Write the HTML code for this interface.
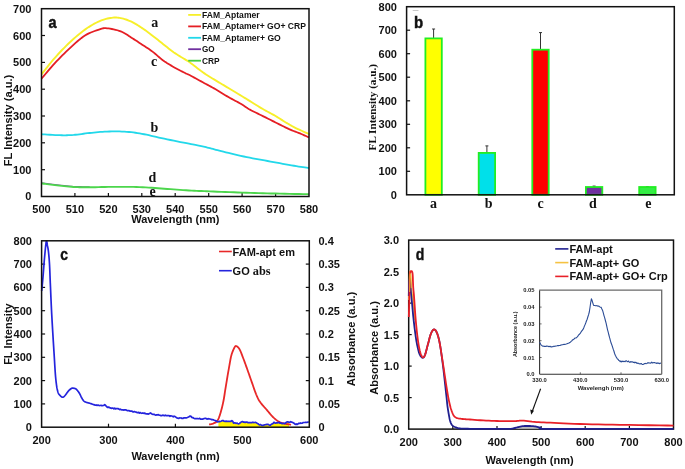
<!DOCTYPE html>
<html><head><meta charset="utf-8"><style>
html,body{margin:0;padding:0;background:#fff;width:685px;height:469px;overflow:hidden}
svg{display:block;filter:blur(0.3px)}
</style></head><body>
<svg width="685" height="469" viewBox="0 0 685 469">
<rect width="685" height="469" fill="#fff"/>
<g font-family="Liberation Sans, sans-serif" font-weight="bold" font-size="11" fill="#111">
<text x="31.4" y="200.4" text-anchor="end">0</text>
<text x="31.4" y="173.6" text-anchor="end">100</text>
<line x1="41.5" y1="169.7" x2="45.0" y2="169.7" stroke="#111" stroke-width="1.2"/>
<text x="31.4" y="146.8" text-anchor="end">200</text>
<line x1="41.5" y1="142.8" x2="45.0" y2="142.8" stroke="#111" stroke-width="1.2"/>
<text x="31.4" y="120.0" text-anchor="end">300</text>
<line x1="41.5" y1="116.0" x2="45.0" y2="116.0" stroke="#111" stroke-width="1.2"/>
<text x="31.4" y="93.1" text-anchor="end">400</text>
<line x1="41.5" y1="89.2" x2="45.0" y2="89.2" stroke="#111" stroke-width="1.2"/>
<text x="31.4" y="66.3" text-anchor="end">500</text>
<line x1="41.5" y1="62.4" x2="45.0" y2="62.4" stroke="#111" stroke-width="1.2"/>
<text x="31.4" y="39.5" text-anchor="end">600</text>
<line x1="41.5" y1="35.5" x2="45.0" y2="35.5" stroke="#111" stroke-width="1.2"/>
<text x="31.4" y="12.6" text-anchor="end">700</text>
<text x="41.5" y="213.3" text-anchor="middle">500</text>
<text x="74.9" y="213.3" text-anchor="middle">510</text>
<line x1="74.9" y1="196.5" x2="74.9" y2="193.0" stroke="#111" stroke-width="1.2"/>
<text x="108.4" y="213.3" text-anchor="middle">520</text>
<line x1="108.4" y1="196.5" x2="108.4" y2="193.0" stroke="#111" stroke-width="1.2"/>
<text x="141.8" y="213.3" text-anchor="middle">530</text>
<line x1="141.8" y1="196.5" x2="141.8" y2="193.0" stroke="#111" stroke-width="1.2"/>
<text x="175.2" y="213.3" text-anchor="middle">540</text>
<line x1="175.2" y1="196.5" x2="175.2" y2="193.0" stroke="#111" stroke-width="1.2"/>
<text x="208.7" y="213.3" text-anchor="middle">550</text>
<line x1="208.7" y1="196.5" x2="208.7" y2="193.0" stroke="#111" stroke-width="1.2"/>
<text x="242.1" y="213.3" text-anchor="middle">560</text>
<line x1="242.1" y1="196.5" x2="242.1" y2="193.0" stroke="#111" stroke-width="1.2"/>
<text x="275.6" y="213.3" text-anchor="middle">570</text>
<line x1="275.6" y1="196.5" x2="275.6" y2="193.0" stroke="#111" stroke-width="1.2"/>
<text x="309.0" y="213.3" text-anchor="middle">580</text>
</g>
<text font-family="Liberation Sans, sans-serif" font-weight="bold" font-size="11" fill="#111" x="175.3" y="222.8" text-anchor="middle">Wavelength (nm)</text>
<text font-family="Liberation Sans, sans-serif" font-weight="bold" font-size="10.7" fill="#111" transform="translate(12,120.5) rotate(-90)" text-anchor="middle" textLength="91.5" lengthAdjust="spacingAndGlyphs">FL Intensity (a.u.)</text>
<text font-family="Liberation Sans, sans-serif" font-weight="bold" font-size="17" fill="#111" stroke="#111" stroke-width="0.5" transform="translate(48.6,27.6) scale(0.85,1)">a</text>
<path d="M41.50,183.78 L42.50,183.91 L43.78,184.09 L45.30,184.29 L47.02,184.52 L48.88,184.77 L50.84,185.02 L52.86,185.27 L54.88,185.50 L56.98,185.74 L59.24,186.00 L61.62,186.26 L64.07,186.53 L66.54,186.78 L68.98,187.02 L71.35,187.22 L73.60,187.38 L75.84,187.49 L78.18,187.56 L80.52,187.61 L82.80,187.63 L84.92,187.64 L86.83,187.64 L88.43,187.64 L89.65,187.65" fill="none" stroke="#7a5a9a" stroke-width="1.2" transform="translate(0,-0.9)"/>
<path d="M41.50,183.78 L42.50,183.91 L43.78,184.09 L45.30,184.29 L47.02,184.52 L48.88,184.77 L50.84,185.02 L52.86,185.27 L54.88,185.50 L56.98,185.74 L59.24,186.00 L61.62,186.26 L64.07,186.53 L66.54,186.78 L68.98,187.02 L71.35,187.22 L73.60,187.38 L75.67,187.49 L77.59,187.57 L79.42,187.63 L81.23,187.65 L83.09,187.67 L85.07,187.66 L87.23,187.66 L89.65,187.65 L92.36,187.62 L95.29,187.58 L98.41,187.52 L101.65,187.45 L104.95,187.38 L108.27,187.32 L111.55,187.27 L114.73,187.24 L117.84,187.23 L120.94,187.23 L124.03,187.23 L127.12,187.24 L130.21,187.26 L133.29,187.31 L136.38,187.38 L139.47,187.49 L142.56,187.62 L145.66,187.79 L148.75,187.99 L151.84,188.21 L154.94,188.44 L158.03,188.67 L161.12,188.90 L164.22,189.12 L167.33,189.34 L170.49,189.57 L173.66,189.80 L176.82,190.04 L179.95,190.27 L183.03,190.48 L186.04,190.69 L188.96,190.87 L191.69,191.02 L194.23,191.15 L196.64,191.27 L199.03,191.37 L201.48,191.47 L204.07,191.57 L206.89,191.68 L210.02,191.81 L213.50,191.94 L217.24,192.09 L221.20,192.25 L225.30,192.41 L229.50,192.57 L233.75,192.72 L237.97,192.87 L242.12,193.01 L246.24,193.14 L250.39,193.27 L254.57,193.40 L258.76,193.52 L262.96,193.63 L267.17,193.74 L271.37,193.85 L275.56,193.95 L279.97,194.05 L284.71,194.15 L289.57,194.25 L294.37,194.35 L298.91,194.43 L302.99,194.51 L306.42,194.57 L309.00,194.62" fill="none" stroke="#4CD64C" stroke-width="1.9" transform="translate(0,-0.4)"/>
<path d="M41.50,134.26 L42.95,134.34 L44.91,134.46 L47.26,134.60 L49.84,134.76 L52.53,134.91 L55.19,135.05 L57.69,135.16 L59.89,135.22 L61.81,135.26 L63.59,135.28 L65.27,135.28 L66.89,135.26 L68.49,135.21 L70.12,135.15 L71.81,135.05 L73.60,134.93 L75.49,134.76 L77.42,134.55 L79.39,134.30 L81.40,134.03 L83.43,133.76 L85.49,133.48 L87.56,133.23 L89.65,133.00 L91.74,132.78 L93.85,132.57 L95.97,132.35 L98.11,132.15 L100.29,131.97 L102.49,131.80 L104.74,131.67 L107.04,131.57 L109.41,131.51 L111.86,131.46 L114.37,131.44 L116.90,131.44 L119.44,131.47 L121.94,131.54 L124.40,131.64 L126.77,131.79 L129.03,131.98 L131.21,132.20 L133.34,132.46 L135.44,132.76 L137.54,133.09 L139.67,133.45 L141.87,133.84 L144.15,134.26 L146.50,134.72 L148.87,135.22 L151.27,135.76 L153.72,136.33 L156.23,136.91 L158.81,137.51 L161.47,138.11 L164.22,138.71 L167.18,139.33 L170.39,140.00 L173.75,140.68 L177.15,141.37 L180.48,142.04 L183.63,142.67 L186.49,143.24 L188.96,143.73 L191.00,144.13 L192.71,144.44 L194.15,144.70 L195.40,144.92 L196.53,145.12 L197.63,145.32 L198.76,145.54 L199.99,145.79 L201.27,146.07 L202.49,146.35 L203.68,146.63 L204.86,146.91 L206.06,147.21 L207.31,147.52 L208.62,147.85 L210.02,148.21 L211.47,148.58 L212.90,148.96 L214.35,149.35 L215.88,149.76 L217.50,150.20 L219.27,150.66 L221.23,151.16 L223.40,151.70 L225.84,152.29 L228.54,152.94 L231.43,153.64 L234.46,154.36 L237.56,155.09 L240.70,155.81 L243.80,156.50 L246.81,157.14 L249.76,157.74 L252.73,158.32 L255.70,158.88 L258.68,159.42 L261.65,159.95 L264.63,160.48 L267.59,161.01 L270.55,161.54 L273.55,162.09 L276.62,162.65 L279.72,163.22 L282.79,163.78 L285.80,164.32 L288.70,164.84 L291.43,165.32 L293.95,165.75 L296.34,166.15 L298.66,166.52 L300.87,166.86 L302.94,167.17 L304.83,167.45 L306.49,167.69 L307.90,167.90 L309.00,168.06" fill="none" stroke="#22D8EA" stroke-width="1.8"/>
<path d="M41.50,74.43 L42.52,73.14 L43.86,71.42 L45.46,69.36 L47.25,67.09 L49.15,64.69 L51.10,62.27 L53.03,59.94 L54.88,57.80 L56.68,55.78 L58.52,53.76 L60.40,51.75 L62.29,49.76 L64.21,47.81 L66.12,45.89 L68.03,44.03 L69.92,42.24 L71.81,40.49 L73.69,38.78 L75.58,37.11 L77.47,35.50 L79.35,33.93 L81.23,32.43 L83.10,30.99 L84.97,29.63 L86.84,28.32 L88.73,27.07 L90.63,25.88 L92.51,24.75 L94.37,23.69 L96.20,22.72 L97.97,21.83 L99.68,21.04 L101.33,20.36 L102.95,19.78 L104.52,19.29 L106.06,18.88 L107.54,18.54 L108.98,18.26 L110.38,18.02 L111.72,17.82 L112.98,17.67 L114.15,17.56 L115.25,17.52 L116.32,17.53 L117.37,17.59 L118.44,17.71 L119.56,17.87 L120.75,18.09 L122.00,18.36 L123.30,18.69 L124.64,19.08 L125.99,19.52 L127.36,20.00 L128.73,20.53 L130.10,21.10 L131.45,21.71 L132.79,22.37 L134.13,23.09 L135.47,23.86 L136.82,24.67 L138.16,25.52 L139.50,26.38 L140.83,27.25 L142.15,28.12 L143.46,29.00 L144.75,29.90 L146.04,30.82 L147.33,31.75 L148.62,32.70 L149.91,33.66 L151.20,34.64 L152.51,35.64 L153.83,36.66 L155.16,37.70 L156.50,38.77 L157.84,39.85 L159.19,40.94 L160.53,42.03 L161.87,43.11 L163.21,44.17 L164.55,45.22 L165.89,46.29 L167.22,47.35 L168.56,48.41 L169.90,49.46 L171.24,50.48 L172.58,51.47 L173.91,52.43 L175.29,53.37 L176.71,54.30 L178.16,55.21 L179.60,56.09 L180.99,56.94 L182.31,57.73 L183.53,58.47 L184.61,59.14 L185.49,59.67 L186.15,60.06 L186.68,60.36 L187.15,60.62 L187.64,60.91 L188.22,61.28 L188.97,61.79 L189.96,62.49 L191.21,63.42 L192.65,64.53 L194.23,65.76 L195.92,67.09 L197.66,68.45 L199.42,69.80 L201.15,71.10 L202.80,72.28 L204.40,73.38 L206.01,74.44 L207.61,75.48 L209.21,76.48 L210.81,77.47 L212.41,78.46 L214.01,79.43 L215.61,80.41 L217.21,81.39 L218.81,82.35 L220.41,83.30 L222.01,84.25 L223.62,85.19 L225.22,86.13 L226.82,87.08 L228.42,88.03 L230.04,89.01 L231.70,90.00 L233.38,91.01 L235.05,92.02 L236.69,93.01 L238.28,93.97 L239.78,94.88 L241.19,95.73 L242.45,96.50 L243.57,97.19 L244.60,97.82 L245.58,98.43 L246.56,99.04 L247.59,99.68 L248.72,100.37 L249.98,101.15 L251.40,102.03 L252.92,102.97 L254.52,103.97 L256.18,105.00 L257.86,106.04 L259.55,107.07 L261.23,108.08 L262.86,109.04 L264.47,109.96 L266.10,110.86 L267.74,111.75 L269.37,112.62 L270.99,113.48 L272.56,114.33 L274.09,115.17 L275.56,116.01 L276.97,116.85 L278.32,117.69 L279.64,118.53 L280.91,119.35 L282.16,120.16 L283.38,120.95 L284.59,121.72 L285.79,122.45 L286.95,123.15 L288.04,123.80 L289.09,124.43 L290.14,125.04 L291.20,125.64 L292.31,126.25 L293.50,126.89 L294.79,127.55 L296.28,128.28 L297.97,129.08 L299.77,129.92 L301.61,130.76 L303.39,131.56 L305.02,132.29 L306.42,132.91 L307.50,133.40 L308.23,133.73 L308.69,133.93 L308.95,134.03 L309.04,134.06 L309.04,134.04 L308.99,134.01 L308.96,133.98 L309.00,133.99" fill="none" stroke="#F7EF2A" stroke-width="1.9"/>
<path d="M41.50,78.72 L42.52,77.52 L43.86,75.91 L45.46,74.00 L47.25,71.88 L49.15,69.64 L51.10,67.38 L53.03,65.19 L54.88,63.16 L56.68,61.24 L58.52,59.31 L60.40,57.38 L62.29,55.47 L64.21,53.57 L66.12,51.71 L68.03,49.90 L69.92,48.14 L71.81,46.40 L73.69,44.66 L75.58,42.95 L77.47,41.28 L79.35,39.68 L81.23,38.17 L83.10,36.78 L84.97,35.53 L86.87,34.41 L88.84,33.41 L90.83,32.52 L92.81,31.72 L94.72,31.02 L96.53,30.39 L98.20,29.84 L99.68,29.36 L100.91,28.95 L101.89,28.63 L102.70,28.40 L103.42,28.24 L104.14,28.16 L104.92,28.14 L105.86,28.19 L107.04,28.28 L108.47,28.45 L110.09,28.68 L111.85,28.99 L113.68,29.35 L115.55,29.78 L117.38,30.25 L119.13,30.78 L120.75,31.34 L122.23,31.97 L123.63,32.68 L124.98,33.45 L126.28,34.26 L127.57,35.11 L128.84,35.97 L130.13,36.83 L131.45,37.67 L132.79,38.52 L134.13,39.37 L135.47,40.24 L136.82,41.12 L138.16,42.01 L139.50,42.89 L140.83,43.77 L142.15,44.65 L143.46,45.51 L144.75,46.35 L146.04,47.18 L147.33,48.02 L148.62,48.87 L149.91,49.75 L151.20,50.66 L152.51,51.63 L153.83,52.66 L155.16,53.76 L156.50,54.90 L157.84,56.07 L159.19,57.23 L160.53,58.37 L161.87,59.46 L163.21,60.48 L164.55,61.43 L165.89,62.33 L167.22,63.20 L168.56,64.03 L169.90,64.84 L171.24,65.64 L172.58,66.41 L173.91,67.19 L175.29,67.96 L176.71,68.74 L178.16,69.52 L179.59,70.27 L180.99,70.98 L182.31,71.66 L183.53,72.27 L184.61,72.82 L185.49,73.25 L186.16,73.56 L186.69,73.79 L187.17,73.98 L187.67,74.19 L188.25,74.45 L189.00,74.81 L190.00,75.32 L191.24,75.97 L192.68,76.75 L194.25,77.61 L195.94,78.53 L197.67,79.49 L199.43,80.46 L201.15,81.41 L202.80,82.32 L204.40,83.19 L206.00,84.05 L207.60,84.91 L209.21,85.77 L210.81,86.64 L212.41,87.52 L214.01,88.41 L215.61,89.32 L217.21,90.26 L218.81,91.22 L220.41,92.20 L222.01,93.18 L223.62,94.17 L225.22,95.15 L226.82,96.11 L228.42,97.05 L230.04,97.97 L231.70,98.88 L233.38,99.79 L235.05,100.68 L236.69,101.56 L238.28,102.41 L239.78,103.25 L241.19,104.05 L242.45,104.81 L243.57,105.53 L244.60,106.22 L245.58,106.89 L246.56,107.56 L247.59,108.23 L248.72,108.93 L249.98,109.66 L251.40,110.42 L252.92,111.20 L254.52,112.00 L256.18,112.81 L257.86,113.63 L259.55,114.45 L261.23,115.26 L262.86,116.07 L264.45,116.87 L266.04,117.66 L267.62,118.46 L269.20,119.26 L270.78,120.06 L272.37,120.85 L273.96,121.65 L275.56,122.45 L277.18,123.26 L278.81,124.09 L280.44,124.92 L282.08,125.75 L283.72,126.57 L285.36,127.38 L286.99,128.15 L288.60,128.89 L290.24,129.60 L291.92,130.30 L293.61,130.97 L295.29,131.63 L296.93,132.25 L298.49,132.86 L299.96,133.44 L301.31,133.99 L302.56,134.53 L303.76,135.06 L304.90,135.57 L305.95,136.05 L306.90,136.50 L307.74,136.89 L308.44,137.22 L309.00,137.48" fill="none" stroke="#E51E24" stroke-width="1.8"/>
<rect x="41.5" y="8.7" width="267.5" height="187.8" fill="none" stroke="#111" stroke-width="1.5"/>
<text font-family="Liberation Serif, serif" font-weight="bold" font-size="14" fill="#111" x="151.2" y="27.4">a</text>
<text font-family="Liberation Serif, serif" font-weight="bold" font-size="14" fill="#111" x="151" y="65.8">c</text>
<text font-family="Liberation Serif, serif" font-weight="bold" font-size="14" fill="#111" x="150.6" y="131.7">b</text>
<text font-family="Liberation Serif, serif" font-weight="bold" font-size="14" fill="#111" x="148.6" y="181.6">d</text>
<text font-family="Liberation Serif, serif" font-weight="bold" font-size="14" fill="#111" x="149.6" y="195.8">e</text>
<line x1="188.2" y1="14.9" x2="201" y2="14.9" stroke="#F7EF2A" stroke-width="1.8"/>
<text font-family="Liberation Sans, sans-serif" font-weight="bold" font-size="9" fill="#111" x="202" y="17.7" textLength="57.6" lengthAdjust="spacingAndGlyphs">FAM_Aptamer</text>
<line x1="188.2" y1="26.4" x2="201" y2="26.4" stroke="#E51E24" stroke-width="1.8"/>
<text font-family="Liberation Sans, sans-serif" font-weight="bold" font-size="9" fill="#111" x="202" y="29.2" textLength="104" lengthAdjust="spacingAndGlyphs">FAM_Aptamer+ GO+ CRP</text>
<line x1="188.2" y1="37.8" x2="201" y2="37.8" stroke="#22D8EA" stroke-width="1.8"/>
<text font-family="Liberation Sans, sans-serif" font-weight="bold" font-size="9" fill="#111" x="202" y="40.6" textLength="78.8" lengthAdjust="spacingAndGlyphs">FAM_Aptamer+ GO</text>
<line x1="188.2" y1="49.2" x2="201" y2="49.2" stroke="#7030A0" stroke-width="1.8"/>
<text font-family="Liberation Sans, sans-serif" font-weight="bold" font-size="9" fill="#111" x="202" y="52.0" textLength="12.7" lengthAdjust="spacingAndGlyphs">GO</text>
<line x1="188.2" y1="60.7" x2="201" y2="60.7" stroke="#44CC44" stroke-width="1.8"/>
<text font-family="Liberation Sans, sans-serif" font-weight="bold" font-size="9" fill="#111" x="202" y="63.5" textLength="17.7" lengthAdjust="spacingAndGlyphs">CRP</text>
<g font-family="Liberation Sans, sans-serif" font-weight="bold" font-size="11" fill="#111">
<text x="396.9" y="198.8" text-anchor="end">0</text>
<text x="396.9" y="175.2" text-anchor="end">100</text>
<line x1="406.6" y1="171.3" x2="410.1" y2="171.3" stroke="#111" stroke-width="1.2"/>
<text x="396.9" y="151.7" text-anchor="end">200</text>
<line x1="406.6" y1="147.8" x2="410.1" y2="147.8" stroke="#111" stroke-width="1.2"/>
<text x="396.9" y="128.2" text-anchor="end">300</text>
<line x1="406.6" y1="124.3" x2="410.1" y2="124.3" stroke="#111" stroke-width="1.2"/>
<text x="396.9" y="104.7" text-anchor="end">400</text>
<line x1="406.6" y1="100.8" x2="410.1" y2="100.8" stroke="#111" stroke-width="1.2"/>
<text x="396.9" y="81.2" text-anchor="end">500</text>
<line x1="406.6" y1="77.2" x2="410.1" y2="77.2" stroke="#111" stroke-width="1.2"/>
<text x="396.9" y="57.7" text-anchor="end">600</text>
<line x1="406.6" y1="53.7" x2="410.1" y2="53.7" stroke="#111" stroke-width="1.2"/>
<text x="396.9" y="34.2" text-anchor="end">700</text>
<line x1="406.6" y1="30.2" x2="410.1" y2="30.2" stroke="#111" stroke-width="1.2"/>
<text x="396.9" y="10.6" text-anchor="end">800</text>
</g>
<text font-family="Liberation Serif, serif" font-weight="bold" font-size="11.2" fill="#111" transform="translate(376,107.2) rotate(-90)" text-anchor="middle">FL Intensity (a.u.)</text>
<text font-family="Liberation Sans, sans-serif" font-weight="bold" font-size="17" fill="#111" stroke="#111" stroke-width="0.5" transform="translate(414,28) scale(0.88,1)">b</text>
<line x1="412.7" y1="10.5" x2="418.5" y2="10.5" stroke="#bbb" stroke-width="0.8"/>
<line x1="433.6" y1="29.0" x2="433.6" y2="38.4" stroke="#333" stroke-width="1"/>
<line x1="432.1" y1="29.0" x2="435.1" y2="29.0" stroke="#333" stroke-width="1"/>
<rect x="425.40000000000003" y="38.4" width="16.4" height="156.4" fill="#FFFF00" stroke="#22EE22" stroke-width="1.8"/>
<line x1="486.9" y1="145.9" x2="486.9" y2="152.9" stroke="#333" stroke-width="1"/>
<line x1="485.4" y1="145.9" x2="488.4" y2="145.9" stroke="#333" stroke-width="1"/>
<rect x="478.7" y="152.9" width="16.4" height="41.9" fill="#00E0EA" stroke="#22EE22" stroke-width="1.8"/>
<line x1="540.5" y1="32.6" x2="540.5" y2="49.7" stroke="#333" stroke-width="1"/>
<line x1="539.0" y1="32.6" x2="542.0" y2="32.6" stroke="#333" stroke-width="1"/>
<rect x="532.3" y="49.7" width="16.4" height="145.1" fill="#FF0000" stroke="#22EE22" stroke-width="1.8"/>
<line x1="594.1" y1="186.1" x2="594.1" y2="187.0" stroke="#333" stroke-width="1"/>
<line x1="592.6" y1="186.1" x2="595.6" y2="186.1" stroke="#333" stroke-width="1"/>
<rect x="585.9" y="187.0" width="16.4" height="7.8" fill="#7030A0" stroke="#22EE22" stroke-width="1.8"/>
<line x1="647.4" y1="186.8" x2="647.4" y2="187.0" stroke="#333" stroke-width="1"/>
<line x1="645.9" y1="186.8" x2="648.9" y2="186.8" stroke="#333" stroke-width="1"/>
<rect x="639.1999999999999" y="187.0" width="16.4" height="7.8" fill="#33EE44" stroke="#22EE22" stroke-width="1.8"/>
<rect x="406.6" y="6.7" width="267.69999999999993" height="188.10000000000002" fill="none" stroke="#111" stroke-width="1.5"/>
<text font-family="Liberation Serif, serif" font-weight="bold" font-size="14" fill="#111" x="433.6" y="207.7" text-anchor="middle">a</text>
<text font-family="Liberation Serif, serif" font-weight="bold" font-size="14" fill="#111" x="488.7" y="207.7" text-anchor="middle">b</text>
<text font-family="Liberation Serif, serif" font-weight="bold" font-size="14" fill="#111" x="540.5" y="207.7" text-anchor="middle">c</text>
<text font-family="Liberation Serif, serif" font-weight="bold" font-size="14" fill="#111" x="592.8" y="207.7" text-anchor="middle">d</text>
<text font-family="Liberation Serif, serif" font-weight="bold" font-size="14" fill="#111" x="648.4" y="207.7" text-anchor="middle">e</text>
<g font-family="Liberation Sans, sans-serif" font-weight="bold" font-size="11" fill="#111">
<text x="31.9" y="431.1" text-anchor="end">0</text>
<text x="31.9" y="407.8" text-anchor="end">100</text>
<line x1="41.6" y1="403.9" x2="45.1" y2="403.9" stroke="#111" stroke-width="1.2"/>
<text x="31.9" y="384.6" text-anchor="end">200</text>
<line x1="41.6" y1="380.6" x2="45.1" y2="380.6" stroke="#111" stroke-width="1.2"/>
<text x="31.9" y="361.2" text-anchor="end">300</text>
<line x1="41.6" y1="357.3" x2="45.1" y2="357.3" stroke="#111" stroke-width="1.2"/>
<text x="31.9" y="337.9" text-anchor="end">400</text>
<line x1="41.6" y1="334.0" x2="45.1" y2="334.0" stroke="#111" stroke-width="1.2"/>
<text x="31.9" y="314.6" text-anchor="end">500</text>
<line x1="41.6" y1="310.7" x2="45.1" y2="310.7" stroke="#111" stroke-width="1.2"/>
<text x="31.9" y="291.3" text-anchor="end">600</text>
<line x1="41.6" y1="287.4" x2="45.1" y2="287.4" stroke="#111" stroke-width="1.2"/>
<text x="31.9" y="268.1" text-anchor="end">700</text>
<line x1="41.6" y1="264.1" x2="45.1" y2="264.1" stroke="#111" stroke-width="1.2"/>
<text x="31.9" y="244.8" text-anchor="end">800</text>
<text x="318.5" y="431.1">0</text>
<text x="318.5" y="407.8">0.05</text>
<line x1="309.3" y1="403.9" x2="305.8" y2="403.9" stroke="#111" stroke-width="1.2"/>
<text x="318.5" y="384.6">0.1</text>
<line x1="309.3" y1="380.6" x2="305.8" y2="380.6" stroke="#111" stroke-width="1.2"/>
<text x="318.5" y="361.2">0.15</text>
<line x1="309.3" y1="357.3" x2="305.8" y2="357.3" stroke="#111" stroke-width="1.2"/>
<text x="318.5" y="337.9">0.2</text>
<line x1="309.3" y1="334.0" x2="305.8" y2="334.0" stroke="#111" stroke-width="1.2"/>
<text x="318.5" y="314.6">0.25</text>
<line x1="309.3" y1="310.7" x2="305.8" y2="310.7" stroke="#111" stroke-width="1.2"/>
<text x="318.5" y="291.3">0.3</text>
<line x1="309.3" y1="287.4" x2="305.8" y2="287.4" stroke="#111" stroke-width="1.2"/>
<text x="318.5" y="268.1">0.35</text>
<line x1="309.3" y1="264.1" x2="305.8" y2="264.1" stroke="#111" stroke-width="1.2"/>
<text x="318.5" y="244.8">0.4</text>
<text x="41.6" y="444.2" text-anchor="middle">200</text>
<text x="108.5" y="444.2" text-anchor="middle">300</text>
<line x1="108.5" y1="427.2" x2="108.5" y2="423.7" stroke="#111" stroke-width="1.2"/>
<text x="175.4" y="444.2" text-anchor="middle">400</text>
<line x1="175.4" y1="427.2" x2="175.4" y2="423.7" stroke="#111" stroke-width="1.2"/>
<text x="242.4" y="444.2" text-anchor="middle">500</text>
<line x1="242.4" y1="427.2" x2="242.4" y2="423.7" stroke="#111" stroke-width="1.2"/>
<text x="309.3" y="444.2" text-anchor="middle">600</text>
</g>
<text font-family="Liberation Sans, sans-serif" font-weight="bold" font-size="11" fill="#111" x="175.5" y="459.5" text-anchor="middle">Wavelength (nm)</text>
<text font-family="Liberation Sans, sans-serif" font-weight="bold" font-size="11" fill="#111" transform="translate(11.7,334.1) rotate(-90)" text-anchor="middle">FL Intensity</text>
<text font-family="Liberation Sans, sans-serif" font-weight="bold" font-size="11.2" fill="#111" transform="translate(355.2,338.9) rotate(-90)" text-anchor="middle">Absorbance (a.u.)</text>
<text font-family="Liberation Sans, sans-serif" font-weight="bold" font-size="17" fill="#111" stroke="#111" stroke-width="0.4" transform="translate(60.2,260.1) scale(0.82,1)">c</text>
<path d="M218.45,421.75 L219.28,421.41 L220.10,421.58 L221.05,421.16 L222.00,420.68 L223.07,420.53 L224.13,421.25 L225.20,421.44 L226.02,421.17 L226.85,421.39 L227.68,421.23 L228.50,421.44 L229.35,421.46 L230.20,421.19 L231.05,421.50 L231.90,420.70 L232.75,421.42 L233.60,423.11 L234.40,422.96 L235.20,422.85 L236.00,423.44 L236.87,423.01 L237.73,423.49 L238.60,423.93 L239.45,423.40 L240.30,422.83 L241.15,422.01 L242.00,421.68 L242.80,421.60 L243.60,422.24 L244.40,422.13 L245.20,422.45 L246.00,422.15 L246.88,422.03 L247.76,422.54 L248.64,422.68 L249.52,422.54 L250.40,422.48 L251.23,422.57 L252.07,422.58 L252.90,422.20 L253.73,422.55 L254.57,422.49 L255.40,422.28 L256.25,422.68 L257.10,423.30 L257.95,423.68 L258.80,424.47 L259.63,424.86 L260.47,424.55 L261.30,425.14 L262.13,425.34 L262.97,425.46 L263.80,425.08 L264.87,424.75 L265.93,424.55 L267.00,424.33 L267.88,424.38 L268.75,424.81 L269.62,425.11 L270.50,425.11 L271.35,424.26 L272.20,423.89 L273.05,423.49 L273.90,422.33 L274.73,422.84 L275.57,423.07 L276.40,422.95 L277.23,422.93 L278.07,422.68 L278.90,422.41 L279.73,423.09 L280.57,422.82 L281.40,423.37 L282.23,423.66 L283.07,423.27 L283.90,423.41 L284.75,423.58 L285.60,423.05 L286.45,422.23 L287.30,421.86 L288.13,421.82 L288.97,422.43 L289.0,427 L218.4,427 Z" fill="#FFF200"/>
<path d="M209.10,424.50 L209.40,424.44 L209.79,424.38 L210.26,424.30 L210.79,424.21 L211.34,424.10 L211.91,423.97 L212.47,423.80 L213.00,423.60 L213.52,423.39 L214.06,423.17 L214.61,422.94 L215.16,422.68 L215.70,422.37 L216.23,422.00 L216.73,421.55 L217.20,421.00 L217.63,420.37 L218.03,419.68 L218.41,418.93 L218.77,418.10 L219.12,417.20 L219.47,416.22 L219.83,415.15 L220.20,414.00 L220.59,412.72 L220.99,411.31 L221.40,409.80 L221.81,408.22 L222.21,406.60 L222.60,404.96 L222.96,403.36 L223.30,401.80 L223.60,400.28 L223.88,398.77 L224.13,397.26 L224.37,395.75 L224.60,394.24 L224.83,392.73 L225.06,391.22 L225.30,389.70 L225.55,388.18 L225.80,386.65 L226.05,385.13 L226.29,383.60 L226.54,382.07 L226.79,380.55 L227.05,379.02 L227.30,377.50 L227.56,375.97 L227.82,374.42 L228.08,372.87 L228.35,371.33 L228.62,369.79 L228.88,368.29 L229.14,366.82 L229.40,365.40 L229.65,364.02 L229.88,362.66 L230.11,361.32 L230.34,360.02 L230.58,358.75 L230.83,357.52 L231.10,356.34 L231.40,355.20 L231.73,354.08 L232.10,352.97 L232.50,351.89 L232.90,350.86 L233.30,349.89 L233.70,349.01 L234.07,348.24 L234.40,347.60 L234.69,347.09 L234.94,346.69 L235.17,346.39 L235.39,346.18 L235.61,346.06 L235.85,346.01 L236.10,346.03 L236.40,346.10 L236.74,346.24 L237.10,346.46 L237.49,346.75 L237.89,347.11 L238.30,347.54 L238.71,348.04 L239.11,348.59 L239.50,349.20 L239.87,349.87 L240.23,350.60 L240.58,351.39 L240.94,352.25 L241.30,353.17 L241.67,354.15 L242.07,355.19 L242.50,356.30 L242.95,357.47 L243.43,358.72 L243.92,360.03 L244.43,361.41 L244.95,362.83 L245.49,364.31 L246.04,365.84 L246.60,367.40 L247.18,369.03 L247.78,370.73 L248.40,372.50 L249.04,374.31 L249.68,376.15 L250.32,377.98 L250.96,379.81 L251.60,381.60 L252.24,383.42 L252.89,385.30 L253.55,387.20 L254.21,389.09 L254.86,390.93 L255.50,392.67 L256.11,394.27 L256.70,395.70 L257.24,396.92 L257.73,397.97 L258.19,398.88 L258.64,399.69 L259.09,400.45 L259.58,401.19 L260.11,401.96 L260.70,402.80 L261.36,403.69 L262.08,404.57 L262.83,405.46 L263.62,406.35 L264.42,407.24 L265.23,408.13 L266.02,409.01 L266.80,409.90 L267.56,410.80 L268.33,411.73 L269.09,412.67 L269.86,413.61 L270.62,414.52 L271.38,415.40 L272.14,416.23 L272.90,417.00 L273.65,417.71 L274.40,418.38 L275.15,419.02 L275.90,419.61 L276.65,420.17 L277.40,420.68 L278.15,421.16 L278.90,421.60 L279.66,421.99 L280.42,422.33 L281.18,422.62 L281.94,422.88 L282.71,423.10 L283.47,423.31 L284.24,423.51 L285.00,423.70 L285.80,423.88 L286.67,424.05 L287.56,424.20 L288.43,424.33 L289.26,424.45 L290.00,424.55 L290.63,424.63 L291.10,424.70" fill="none" stroke="#E82828" stroke-width="1.8"/>
<path d="M41.70,291.00 L41.84,289.53 L42.03,287.56 L42.26,285.19 L42.50,282.56 L42.76,279.78 L43.00,277.00 L43.23,274.09 L43.47,270.94 L43.72,267.66 L43.97,264.33 L44.23,261.08 L44.50,258.00 L44.79,254.86 L45.10,251.54 L45.42,248.28 L45.73,245.35 L46.03,243.01 L46.30,241.50 L46.54,241.02 L46.75,241.39 L46.95,242.34 L47.14,243.61 L47.32,244.92 L47.50,246.00 L47.68,246.84 L47.85,247.67 L48.01,248.53 L48.17,249.50 L48.34,250.64 L48.50,252.00 L48.67,253.57 L48.84,255.30 L49.01,257.19 L49.18,259.26 L49.34,261.53 L49.50,264.00 L49.64,266.67 L49.77,269.52 L49.89,272.56 L50.01,275.81 L50.15,279.29 L50.30,283.00 L50.48,287.08 L50.67,291.56 L50.87,296.25 L51.08,301.00 L51.29,305.64 L51.50,310.00 L51.71,314.09 L51.93,318.04 L52.14,321.88 L52.36,325.63 L52.58,329.33 L52.80,333.00 L53.02,336.62 L53.23,340.16 L53.45,343.65 L53.67,347.10 L53.88,350.55 L54.10,354.00 L54.32,357.57 L54.54,361.27 L54.76,364.96 L54.98,368.50 L55.19,371.76 L55.40,374.60 L55.60,376.99 L55.79,379.02 L55.98,380.78 L56.16,382.31 L56.33,383.70 L56.50,385.00 L56.66,386.16 L56.81,387.12 L56.95,387.93 L57.09,388.64 L57.24,389.32 L57.40,390.00 L57.57,390.69 L57.74,391.34 L57.91,391.95 L58.10,392.51 L58.29,393.03 L58.50,393.50 L58.73,393.90 L58.97,394.24 L59.23,394.52 L59.49,394.79 L59.75,395.04 L60.00,395.30 L60.25,395.58 L60.50,395.86 L60.74,396.14 L60.99,396.39 L61.24,396.62 L61.50,396.80 L61.76,396.95 L62.01,397.09 L62.28,397.20 L62.54,397.26 L62.81,397.27 L63.10,397.20 L63.38,397.07 L63.66,396.88 L63.95,396.64 L64.26,396.33 L64.60,395.95 L65.00,395.50 L65.47,394.92 L66.02,394.20 L66.61,393.41 L67.19,392.61 L67.73,391.89 L68.20,391.30 L68.58,390.86 L68.90,390.50 L69.18,390.22 L69.44,389.97 L69.70,389.74 L70.00,389.50 L70.32,389.24 L70.65,388.98 L70.99,388.73 L71.33,388.51 L71.66,388.33 L72.00,388.20 L72.33,388.13 L72.67,388.11 L73.01,388.13 L73.34,388.18 L73.67,388.24 L74.00,388.30 L74.32,388.35 L74.64,388.41 L74.96,388.48 L75.27,388.57 L75.58,388.71 L75.90,388.90 L76.22,389.16 L76.53,389.46 L76.85,389.81 L77.17,390.19 L77.48,390.59 L77.80,391.00 L78.12,391.42 L78.44,391.85 L78.76,392.30 L79.07,392.77 L79.39,393.27 L79.70,393.80 L80.00,394.37 L80.30,394.98 L80.59,395.62 L80.88,396.26 L81.18,396.90 L81.50,397.50 L81.83,398.10 L82.17,398.70 L82.51,399.29 L82.87,399.86 L83.23,400.36 L83.60,400.80 L83.98,401.15 L84.37,401.43 L84.76,401.66 L85.17,401.85 L85.58,402.02 L86.00,402.20 L86.43,402.37 L86.86,402.50 L87.29,402.62 L87.74,402.74 L88.21,402.86 L88.70,403.00 L89.22,403.15 L89.76,403.31 L90.32,403.48 L90.89,403.64 L91.45,403.82 L92.00,404.00 L92.58,404.20 L93.19,404.43 L93.81,404.66 L94.37,404.88 L94.85,405.07 L95.20,405.20 L96.16,404.97 L97.12,405.50 L98.08,405.06 L99.04,405.55 L100.00,405.48 L101.00,405.30 L102.00,405.81 L103.00,405.48 L103.85,405.39 L104.70,404.61 L105.60,405.43 L106.50,406.53 L107.50,407.34 L108.50,407.16 L109.40,407.39 L110.30,407.89 L111.20,408.32 L112.10,408.13 L113.00,408.11 L113.83,408.76 L114.67,408.06 L115.50,408.92 L116.33,408.54 L117.17,408.55 L118.00,408.66 L118.80,408.99 L119.60,409.60 L120.40,409.19 L121.20,409.71 L122.00,409.93 L122.90,409.80 L123.80,410.08 L124.70,409.76 L125.60,409.87 L126.50,410.12 L127.40,410.66 L128.32,410.61 L129.24,410.69 L130.16,411.12 L131.08,411.18 L132.00,411.22 L132.82,411.80 L133.63,411.85 L134.45,411.57 L135.27,412.00 L136.08,412.09 L136.90,412.54 L137.72,412.57 L138.54,412.33 L139.36,413.11 L140.18,412.50 L141.00,412.93 L141.90,413.35 L142.80,412.92 L143.70,413.34 L144.60,413.05 L145.50,413.73 L146.40,413.94 L147.27,413.83 L148.13,414.17 L149.00,413.73 L150.50,412.98 L152.10,414.18 L153.05,414.32 L154.00,414.36 L154.95,414.86 L155.90,415.10 L156.72,414.76 L157.54,415.01 L158.36,414.54 L159.18,415.20 L160.00,415.23 L160.90,415.63 L161.80,415.56 L162.70,415.16 L163.60,415.33 L164.50,415.67 L165.40,415.17 L166.32,415.67 L167.24,415.50 L168.16,415.56 L169.08,415.60 L170.00,416.34 L170.82,415.85 L171.63,416.04 L172.45,416.25 L173.27,416.77 L174.08,416.14 L174.90,416.55 L175.85,417.14 L176.80,417.95 L177.75,418.14 L178.70,418.43 L179.52,417.90 L180.35,418.02 L181.18,417.97 L182.00,418.45 L182.86,418.51 L183.72,417.79 L184.58,417.81 L185.44,417.86 L186.30,417.86 L187.40,417.54 L188.50,417.08 L190.10,415.99 L190.95,416.35 L191.80,417.33 L192.85,417.63 L193.90,418.16 L194.93,418.64 L195.97,418.54 L197.00,418.51 L197.90,418.67 L198.80,418.78 L199.70,418.28 L200.60,419.10 L201.50,419.05 L202.38,419.06 L203.25,418.92 L204.12,418.48 L205.00,418.41 L206.00,418.39 L207.00,419.12 L208.00,418.71 L209.00,418.81 L210.00,419.04 L210.86,419.24 L211.72,419.64 L212.58,419.62 L213.44,419.81 L214.30,420.19 L215.13,420.47 L215.97,421.04 L216.80,421.07 L217.62,421.91 L218.45,421.75 L219.28,421.41 L220.10,421.58 L221.05,421.16 L222.00,420.68 L223.07,420.53 L224.13,421.25 L225.20,421.44 L226.02,421.17 L226.85,421.39 L227.68,421.23 L228.50,421.44 L229.35,421.46 L230.20,421.19 L231.05,421.50 L231.90,420.70 L232.75,421.42 L233.60,423.11 L234.40,422.96 L235.20,422.85 L236.00,423.44 L236.87,423.01 L237.73,423.49 L238.60,423.93 L239.45,423.40 L240.30,422.83 L241.15,422.01 L242.00,421.68 L242.80,421.60 L243.60,422.24 L244.40,422.13 L245.20,422.45 L246.00,422.15 L246.88,422.03 L247.76,422.54 L248.64,422.68 L249.52,422.54 L250.40,422.48 L251.23,422.57 L252.07,422.58 L252.90,422.20 L253.73,422.55 L254.57,422.49 L255.40,422.28 L256.25,422.68 L257.10,423.30 L257.95,423.68 L258.80,424.47 L259.63,424.86 L260.47,424.55 L261.30,425.14 L262.13,425.34 L262.97,425.46 L263.80,425.08 L264.87,424.75 L265.93,424.55 L267.00,424.33 L267.88,424.38 L268.75,424.81 L269.62,425.11 L270.50,425.11 L271.35,424.26 L272.20,423.89 L273.05,423.49 L273.90,422.33 L274.73,422.84 L275.57,423.07 L276.40,422.95 L277.23,422.93 L278.07,422.68 L278.90,422.41 L279.73,423.09 L280.57,422.82 L281.40,423.37 L282.23,423.66 L283.07,423.27 L283.90,423.41 L284.75,423.58 L285.60,423.05 L286.45,422.23 L287.30,421.86 L288.13,421.82 L288.97,422.43 L289.80,422.28 L290.63,421.61 L291.47,422.16 L292.30,422.23 L293.15,422.69 L294.00,423.17 L294.85,424.09 L295.70,424.47 L296.52,423.96 L297.35,424.42 L298.18,423.73 L299.00,423.22 L299.85,423.51 L300.70,422.97 L301.55,423.28 L302.40,423.16 L303.25,422.52 L304.10,422.48 L305.04,422.41 L305.98,422.27 L306.92,422.48 L307.86,422.08 L308.80,422.20" fill="none" stroke="#2424DD" stroke-width="1.7" stroke-linejoin="round"/>
<rect x="41.6" y="240.8" width="267.7" height="186.39999999999998" fill="none" stroke="#111" stroke-width="1.5"/>
<line x1="219" y1="251.5" x2="231.8" y2="251.5" stroke="#E82828" stroke-width="1.6"/>
<text font-family="Liberation Sans, sans-serif" font-weight="bold" font-size="11" fill="#111" x="232.6" y="255.6">FAM-apt em</text>
<line x1="219" y1="270.7" x2="231.8" y2="270.7" stroke="#2424DD" stroke-width="1.6"/>
<text font-family="Liberation Sans, sans-serif" font-weight="bold" font-size="11" fill="#111" x="232.6" y="274.8">GO <tspan font-family="Liberation Serif, serif" font-size="12.3">abs</tspan></text>
<g font-family="Liberation Sans, sans-serif" font-weight="bold" font-size="11" fill="#111">
<text x="399" y="433.1" text-anchor="end">0.0</text>
<text x="399" y="401.6" text-anchor="end">0.5</text>
<line x1="408.7" y1="397.6" x2="411.7" y2="397.6" stroke="#111" stroke-width="1.2"/>
<text x="399" y="370.1" text-anchor="end">1.0</text>
<line x1="408.7" y1="366.1" x2="411.7" y2="366.1" stroke="#111" stroke-width="1.2"/>
<text x="399" y="338.6" text-anchor="end">1.5</text>
<line x1="408.7" y1="334.6" x2="411.7" y2="334.6" stroke="#111" stroke-width="1.2"/>
<text x="399" y="307.1" text-anchor="end">2.0</text>
<line x1="408.7" y1="303.1" x2="411.7" y2="303.1" stroke="#111" stroke-width="1.2"/>
<text x="399" y="275.6" text-anchor="end">2.5</text>
<line x1="408.7" y1="271.6" x2="411.7" y2="271.6" stroke="#111" stroke-width="1.2"/>
<text x="399" y="244.0" text-anchor="end">3.0</text>
<text x="408.7" y="446.2" text-anchor="middle">200</text>
<text x="452.8" y="446.2" text-anchor="middle">300</text>
<line x1="452.8" y1="429.1" x2="452.8" y2="426.1" stroke="#111" stroke-width="1.2"/>
<text x="497.0" y="446.2" text-anchor="middle">400</text>
<line x1="497.0" y1="429.1" x2="497.0" y2="426.1" stroke="#111" stroke-width="1.2"/>
<text x="541.1" y="446.2" text-anchor="middle">500</text>
<line x1="541.1" y1="429.1" x2="541.1" y2="426.1" stroke="#111" stroke-width="1.2"/>
<text x="585.2" y="446.2" text-anchor="middle">600</text>
<line x1="585.2" y1="429.1" x2="585.2" y2="426.1" stroke="#111" stroke-width="1.2"/>
<text x="629.4" y="446.2" text-anchor="middle">700</text>
<line x1="629.4" y1="429.1" x2="629.4" y2="426.1" stroke="#111" stroke-width="1.2"/>
<text x="673.5" y="446.2" text-anchor="middle">800</text>
</g>
<text font-family="Liberation Sans, sans-serif" font-weight="bold" font-size="11" fill="#111" x="529.6" y="464.3" text-anchor="middle">Wavelength (nm)</text>
<text font-family="Liberation Sans, sans-serif" font-weight="bold" font-size="11.1" fill="#111" transform="translate(378.2,348) rotate(-90)" text-anchor="middle">Absorbance (a.u.)</text>
<text font-family="Liberation Sans, sans-serif" font-weight="bold" font-size="16" fill="#111" stroke="#111" stroke-width="0.4" transform="translate(415.7,260.1) scale(0.88,1)">d</text>
<rect x="408.7" y="240.1" width="264.8" height="189.00000000000003" fill="none" stroke="#111" stroke-width="1.5"/>
<path d="M508.5,428.8 L515,428.2 L521.4,426.8 L534.2,426.8 L540,427.8 L545.5,428.8 Z" fill="#bbb"/>
<path d="M408.80,300.00 L408.87,298.34 L408.96,296.04 L409.07,293.31 L409.19,290.41 L409.30,287.56 L409.40,285.00 L409.49,282.53 L409.57,279.93 L409.65,277.38 L409.73,275.07 L409.81,273.22 L409.90,272.00 L409.99,271.46 L410.09,271.44 L410.19,271.88 L410.29,272.67 L410.39,273.74 L410.50,275.00 L410.61,276.68 L410.72,278.89 L410.84,281.38 L410.96,283.89 L411.08,286.18 L411.20,288.00 L411.33,289.33 L411.47,290.37 L411.61,291.19 L411.74,291.85 L411.88,292.43 L412.00,293.00 L412.11,293.47 L412.21,293.78 L412.31,294.00 L412.41,294.22 L412.50,294.53 L412.60,295.00 L412.70,295.60 L412.79,296.26 L412.89,297.00 L412.99,297.85 L413.09,298.84 L413.20,300.00 L413.32,301.38 L413.44,302.96 L413.57,304.69 L413.71,306.48 L413.85,308.28 L414.00,310.00 L414.17,311.78 L414.36,313.70 L414.55,315.62 L414.73,317.41 L414.89,318.91 L415.00,320.00" fill="none" stroke="#F5C242" stroke-width="1.7"/>
<path d="M408.80,296.00 L408.84,294.61 L408.89,292.63 L408.96,290.31 L409.03,287.93 L409.11,285.73 L409.20,284.00 L409.30,282.59 L409.41,281.26 L409.53,280.12 L409.66,279.30 L409.78,278.88 L409.90,279.00 L410.02,279.82 L410.13,281.30 L410.24,283.19 L410.36,285.26 L410.48,287.28 L410.60,289.00 L410.73,290.44 L410.86,291.78 L410.99,293.06 L411.12,294.33 L411.26,295.63 L411.40,297.00 L411.54,298.43 L411.69,299.89 L411.84,301.38 L412.00,302.89 L412.15,304.43 L412.30,306.00 L412.44,307.57 L412.58,309.15 L412.71,310.75 L412.86,312.41 L413.02,314.15 L413.20,316.00 L413.42,318.02 L413.66,320.19 L413.91,322.45 L414.18,324.72 L414.44,326.93 L414.70,329.00 L414.95,330.96 L415.20,332.88 L415.45,334.73 L415.70,336.51 L415.95,338.20 L416.20,339.80 L416.45,341.29 L416.70,342.67 L416.95,343.97 L417.20,345.20 L417.45,346.37 L417.70,347.50 L417.95,348.59 L418.19,349.64 L418.43,350.62 L418.68,351.55 L418.93,352.41 L419.20,353.20 L419.48,353.91 L419.77,354.56 L420.07,355.13 L420.38,355.64 L420.69,356.10 L421.00,356.50 L421.31,356.87 L421.62,357.20 L421.93,357.47 L422.25,357.67 L422.57,357.75 L422.90,357.70 L423.23,357.57 L423.55,357.40 L423.88,357.11 L424.23,356.66 L424.60,355.98 L425.00,355.00 L425.45,353.64 L425.93,351.93 L426.44,349.99 L426.97,347.94 L427.49,345.90 L428.00,344.00 L428.50,342.15 L429.00,340.23 L429.49,338.32 L429.99,336.51 L430.49,334.87 L431.00,333.50 L431.51,332.36 L432.03,331.37 L432.56,330.57 L433.08,329.96 L433.59,329.56 L434.10,329.40 L434.60,329.49 L435.10,329.83 L435.59,330.38 L436.07,331.11 L436.54,332.00 L437.00,333.00 L437.44,334.13 L437.87,335.41 L438.29,336.85 L438.70,338.43 L439.11,340.15 L439.50,342.00 L439.89,344.04 L440.27,346.30 L440.64,348.69 L441.01,351.15 L441.36,353.61 L441.70,356.00 L442.02,358.31 L442.33,360.59 L442.62,362.88 L442.91,365.19 L443.20,367.55 L443.50,370.00 L443.81,372.61 L444.12,375.37 L444.44,378.19 L444.74,380.96 L445.03,383.60 L445.30,386.00 L445.54,388.13 L445.75,390.07 L445.94,391.86 L446.13,393.58 L446.31,395.27 L446.50,397.00 L446.69,398.77 L446.86,400.53 L447.04,402.27 L447.21,403.97 L447.40,405.62 L447.60,407.20 L447.82,408.73 L448.06,410.23 L448.31,411.67 L448.55,413.05 L448.79,414.33 L449.00,415.50 L449.18,416.54 L449.34,417.46 L449.49,418.28 L449.64,419.04 L449.81,419.77 L450.00,420.50 L450.22,421.22 L450.44,421.92 L450.69,422.59 L450.94,423.21 L451.22,423.78 L451.50,424.30 L451.79,424.75 L452.09,425.13 L452.41,425.46 L452.74,425.75 L453.10,426.03 L453.50,426.30 L453.93,426.56 L454.39,426.80 L454.88,427.02 L455.39,427.22 L455.93,427.41 L456.50,427.60 L457.05,427.78 L457.56,427.95 L458.09,428.11 L458.72,428.26 L459.50,428.39 L460.50,428.50 L461.64,428.59 L462.87,428.65 L464.25,428.70 L465.85,428.74 L467.75,428.77 L470.00,428.80 L472.74,428.83 L475.94,428.85 L479.44,428.87 L483.06,428.88 L486.63,428.89 L490.00,428.90 L493.31,428.92 L496.72,428.94 L500.09,428.96 L503.28,428.97 L506.13,428.95 L508.50,428.90 L510.28,428.81 L511.56,428.70 L512.51,428.56 L513.29,428.39 L514.06,428.21 L515.00,428.00 L516.07,427.75 L517.13,427.44 L518.19,427.11 L519.26,426.79 L520.32,426.51 L521.40,426.30 L522.49,426.16 L523.60,426.07 L524.71,426.02 L525.82,426.00 L526.92,426.00 L528.00,426.00 L529.06,426.00 L530.11,426.02 L531.15,426.05 L532.18,426.10 L533.19,426.19 L534.20,426.30 L535.19,426.46 L536.17,426.66 L537.14,426.89 L538.10,427.13 L539.06,427.37 L540.00,427.60 L540.37,427.83 L540.04,428.08 L539.71,428.33 L540.05,428.56 L541.75,428.76 L545.50,428.90 L551.53,428.98 L559.33,429.00 L568.50,428.98 L578.61,428.95 L589.25,428.92 L600.00,428.90 L612.00,428.90 L625.81,428.90 L640.16,428.90 L653.74,428.90 L665.28,428.90 L673.50,428.90" fill="none" stroke="#202090" stroke-width="1.8"/>
<path d="M408.80,317.00 L408.86,315.16 L408.93,312.63 L409.02,309.62 L409.12,306.37 L409.22,303.09 L409.30,300.00 L409.37,296.96 L409.44,293.76 L409.50,290.53 L409.56,287.41 L409.63,284.52 L409.70,282.00 L409.77,279.83 L409.85,277.90 L409.92,276.21 L410.01,274.74 L410.10,273.51 L410.20,272.50 L410.31,271.79 L410.44,271.40 L410.57,271.24 L410.71,271.21 L410.85,271.23 L411.00,271.20 L411.16,271.12 L411.33,271.06 L411.51,271.05 L411.68,271.10 L411.85,271.25 L412.00,271.50 L412.14,271.80 L412.26,272.11 L412.38,272.52 L412.49,273.09 L412.60,273.89 L412.70,275.00 L412.79,276.54 L412.87,278.48 L412.94,280.66 L413.02,282.91 L413.10,285.08 L413.20,287.00 L413.31,288.55 L413.42,289.81 L413.54,291.00 L413.68,292.30 L413.83,293.90 L414.00,296.00 L414.20,298.75 L414.42,302.04 L414.66,305.62 L414.91,309.30 L415.16,312.83 L415.40,316.00 L415.63,318.82 L415.86,321.46 L416.09,323.97 L416.32,326.37 L416.56,328.70 L416.80,331.00 L417.06,333.28 L417.32,335.52 L417.59,337.69 L417.86,339.76 L418.13,341.71 L418.40,343.50 L418.67,345.14 L418.94,346.65 L419.21,348.04 L419.48,349.30 L419.74,350.46 L420.00,351.50 L420.24,352.41 L420.48,353.17 L420.71,353.82 L420.93,354.39 L421.16,354.91 L421.40,355.40 L421.64,355.89 L421.87,356.37 L422.11,356.79 L422.35,357.13 L422.61,357.34 L422.90,357.40 L423.20,357.35 L423.52,357.24 L423.86,357.01 L424.21,356.60 L424.59,355.95 L425.00,355.00 L425.45,353.66 L425.93,351.95 L426.44,350.01 L426.97,347.95 L427.49,345.90 L428.00,344.00 L428.50,342.15 L429.00,340.23 L429.49,338.32 L429.99,336.51 L430.49,334.87 L431.00,333.50 L431.51,332.36 L432.03,331.37 L432.56,330.57 L433.08,329.96 L433.59,329.56 L434.10,329.40 L434.60,329.49 L435.10,329.83 L435.59,330.38 L436.07,331.11 L436.54,332.00 L437.00,333.00 L437.44,334.14 L437.87,335.43 L438.29,336.88 L438.70,338.47 L439.11,340.18 L439.50,342.00 L439.89,344.01 L440.27,346.24 L440.64,348.59 L441.01,350.98 L441.36,353.31 L441.70,355.50 L442.02,357.53 L442.33,359.46 L442.62,361.34 L442.91,363.20 L443.20,365.08 L443.50,367.00 L443.80,368.98 L444.10,371.00 L444.41,373.03 L444.71,375.06 L445.01,377.05 L445.30,379.00 L445.59,380.90 L445.87,382.77 L446.15,384.62 L446.43,386.44 L446.71,388.23 L447.00,390.00 L447.29,391.75 L447.58,393.48 L447.87,395.18 L448.17,396.86 L448.48,398.50 L448.80,400.10 L449.14,401.68 L449.49,403.26 L449.86,404.79 L450.23,406.28 L450.61,407.69 L451.00,409.00 L451.41,410.24 L451.83,411.42 L452.26,412.52 L452.69,413.54 L453.11,414.44 L453.50,415.20 L453.85,415.80 L454.18,416.24 L454.49,416.57 L454.80,416.83 L455.13,417.06 L455.50,417.30 L455.86,417.54 L456.20,417.75 L456.55,417.93 L456.97,418.09 L457.50,418.25 L458.20,418.40 L459.12,418.56 L460.23,418.71 L461.46,418.85 L462.71,418.98 L463.92,419.10 L465.00,419.20 L465.81,419.27 L466.39,419.31 L466.92,419.33 L467.58,419.36 L468.55,419.41 L470.00,419.50 L472.04,419.64 L474.55,419.83 L477.36,420.04 L480.33,420.25 L483.29,420.44 L486.10,420.60 L488.81,420.72 L491.56,420.83 L494.30,420.92 L497.00,420.99 L499.61,421.05 L502.10,421.10 L504.50,421.13 L506.84,421.16 L509.10,421.16 L511.24,421.16 L513.22,421.13 L515.00,421.10 L516.47,421.02 L517.64,420.90 L518.66,420.77 L519.66,420.65 L520.79,420.58 L522.20,420.60 L523.87,420.72 L525.69,420.92 L527.64,421.17 L529.72,421.44 L531.91,421.69 L534.20,421.90 L536.49,422.06 L538.76,422.19 L541.14,422.30 L543.77,422.41 L546.78,422.54 L550.30,422.70 L554.34,422.89 L558.81,423.11 L563.66,423.35 L568.83,423.59 L574.30,423.81 L580.00,424.00 L585.91,424.16 L592.07,424.30 L598.51,424.43 L605.29,424.55 L612.43,424.67 L620.00,424.80 L628.75,424.94 L638.81,425.10 L649.25,425.25 L659.13,425.39 L667.52,425.51 L673.50,425.60" fill="none" stroke="#E82028" stroke-width="1.8"/>
<path d="M409.6,292 L409.9,276 L410.3,273.5 L410.8,279 L411.3,288" fill="none" stroke="#F2B530" stroke-width="0.9"/>
<line x1="555.2" y1="248.9" x2="568.4" y2="248.9" stroke="#202090" stroke-width="1.6"/>
<text font-family="Liberation Sans, sans-serif" font-weight="bold" font-size="11" fill="#111" x="569.4" y="252.9">FAM-apt</text>
<line x1="555.2" y1="262.6" x2="568.4" y2="262.6" stroke="#F5C242" stroke-width="1.6"/>
<text font-family="Liberation Sans, sans-serif" font-weight="bold" font-size="11" fill="#111" x="569.4" y="266.6">FAM-apt+ GO</text>
<line x1="555.2" y1="276.4" x2="568.4" y2="276.4" stroke="#E82028" stroke-width="1.6"/>
<text font-family="Liberation Sans, sans-serif" font-weight="bold" font-size="11" fill="#111" x="569.4" y="280.4">FAM-apt+ GO+ Crp</text>
<line x1="540.6" y1="388.7" x2="532.4" y2="411" stroke="#111" stroke-width="1.1"/>
<path d="M531.2,414.8 L530.2,409.4 L534,410.8 Z" fill="#111"/>
<rect x="539.6" y="290.3" width="122.10000000000002" height="84.0" fill="#fff" stroke="none"/>
<path d="M539.6,374.3 L539.6,290.3 M539.6,374.3 L661.7,374.3" stroke="#333" stroke-width="1.1" fill="none"/>
<path d="M539.1,290.1 L661.7,290.1 L661.7,374.3" stroke="#6a6a6a" stroke-width="1.3" fill="none"/>
<g font-family="Liberation Sans, sans-serif" font-weight="bold" font-size="5.8" fill="#222">
<text x="534.5" y="376.4" text-anchor="end">0.0</text>
<text x="534.5" y="359.6" text-anchor="end">0.01</text>
<line x1="539.6" y1="357.5" x2="541.6" y2="357.5" stroke="#333" stroke-width="0.7"/>
<text x="534.5" y="342.8" text-anchor="end">0.02</text>
<line x1="539.6" y1="340.7" x2="541.6" y2="340.7" stroke="#333" stroke-width="0.7"/>
<text x="534.5" y="326.0" text-anchor="end">0.03</text>
<line x1="539.6" y1="323.9" x2="541.6" y2="323.9" stroke="#333" stroke-width="0.7"/>
<text x="534.5" y="309.2" text-anchor="end">0.04</text>
<line x1="539.6" y1="307.1" x2="541.6" y2="307.1" stroke="#333" stroke-width="0.7"/>
<text x="534.5" y="292.4" text-anchor="end">0.05</text>
<text x="539.6" y="382.1" text-anchor="middle">330.0</text>
<text x="580.3" y="382.1" text-anchor="middle">430.0</text>
<line x1="580.3" y1="374.3" x2="580.3" y2="372.3" stroke="#333" stroke-width="0.7"/>
<text x="621.0" y="382.1" text-anchor="middle">530.0</text>
<line x1="621.0" y1="374.3" x2="621.0" y2="372.3" stroke="#333" stroke-width="0.7"/>
<text x="661.7" y="382.1" text-anchor="middle">630.0</text>
<text x="600.7" y="389.7" text-anchor="middle" font-size="6">Wavelengh (nm)</text>
<text transform="translate(517.3,334.3) rotate(-90)" text-anchor="middle" font-size="5.4">Absorbance (a.u.)</text>
</g>
<path d="M539.60,342.37 L540.30,343.56 L541.00,344.85 L541.70,345.43 L542.40,346.00 L543.10,346.30 L543.80,346.16 L544.50,346.36 L545.20,346.41 L545.90,346.47 L546.60,346.04 L547.30,346.20 L548.00,346.13 L548.70,346.61 L549.40,346.60 L550.10,346.25 L550.80,346.86 L551.50,346.87 L552.20,346.69 L552.90,346.65 L553.60,346.32 L554.30,346.17 L555.00,346.38 L555.70,345.99 L556.40,345.94 L557.10,345.83 L557.80,345.55 L558.50,345.64 L559.20,345.46 L559.90,345.53 L560.60,345.16 L561.30,345.06 L562.00,344.80 L562.70,344.72 L563.40,344.42 L564.10,344.14 L564.80,344.43 L565.50,344.29 L566.20,344.06 L566.90,343.84 L567.60,343.45 L568.30,343.21 L569.00,342.99 L569.70,342.45 L570.40,342.25 L571.10,341.35 L571.80,340.90 L572.50,339.88 L573.20,339.66 L573.90,339.20 L574.60,338.34 L575.30,338.04 L576.00,338.03 L576.70,337.25 L577.40,336.88 L578.10,335.76 L578.80,334.74 L579.50,334.21 L580.20,333.41 L580.90,332.22 L581.60,331.18 L582.30,330.29 L583.00,329.47 L583.70,327.99 L584.40,326.12 L585.10,324.61 L585.80,322.77 L586.50,320.79 L587.20,319.22 L587.90,316.76 L588.60,314.69 L589.30,312.00 L590.00,307.46 L590.70,302.52 L591.40,298.80 L592.10,300.55 L592.80,302.85 L593.50,305.17 L594.20,305.56 L594.90,305.51 L595.60,305.79 L596.30,305.74 L597.00,305.58 L597.70,306.13 L598.40,305.97 L599.10,306.34 L599.80,306.91 L600.50,307.15 L601.20,307.39 L601.90,309.07 L602.60,310.45 L603.30,312.81 L604.00,315.56 L604.70,317.84 L605.40,320.49 L606.10,323.22 L606.80,326.27 L607.50,329.54 L608.20,332.12 L608.90,335.02 L609.60,337.54 L609.70,337.97 L610.40,340.63 L611.10,343.07 L611.80,344.81 L612.50,346.78 L613.20,349.17 L613.90,350.98 L614.60,353.48 L615.30,355.17 L616.00,356.61 L616.70,357.83 L617.40,359.00 L618.10,359.33 L618.80,360.45 L619.50,360.67 L620.20,361.77 L620.90,360.97 L621.60,361.86 L622.30,361.05 L623.00,361.72 L623.70,361.32 L624.40,361.38 L625.10,361.80 L625.80,360.80 L626.50,360.80 L627.20,361.77 L627.90,361.42 L628.60,361.08 L629.30,362.21 L630.00,362.30 L630.70,361.52 L631.40,361.98 L632.10,361.78 L632.80,362.08 L633.50,362.53 L634.20,362.14 L634.90,362.84 L635.60,362.26 L636.30,362.54 L637.00,363.41 L637.70,363.12 L638.40,363.32 L639.10,363.76 L639.80,363.83 L640.50,363.85 L641.20,363.48 L641.90,364.22 L642.60,364.43 L643.30,364.36 L644.00,363.93 L644.70,363.50 L645.40,363.42 L646.10,363.70 L646.80,363.58 L647.50,362.86 L648.20,362.88 L648.90,362.90 L649.60,362.96 L650.30,363.19 L651.00,362.77 L651.70,362.20 L652.40,363.05 L653.10,362.64 L653.80,362.79 L654.50,362.55 L655.20,362.87 L655.90,362.93 L656.60,363.45 L657.30,362.80 L658.00,363.38 L658.70,363.06 L659.40,363.72 L660.10,363.10 L660.80,363.46" fill="none" stroke="#2B4C96" stroke-width="1.1" stroke-linejoin="round"/>
</svg>
</body></html>
